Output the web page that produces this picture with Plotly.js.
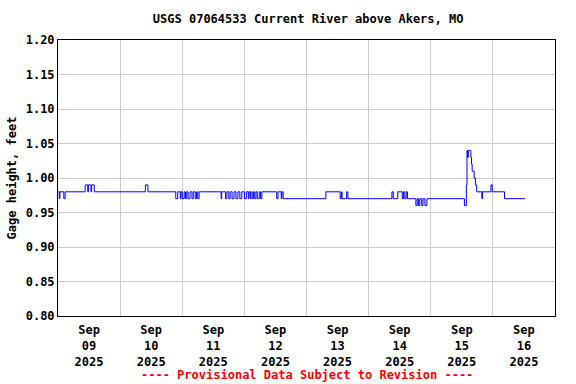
<!DOCTYPE html>
<html>
<head>
<meta charset="utf-8">
<script src="https://cdn.plot.ly/plotly-3.0.1.min.js"></script>
<style>html,body{margin:0;padding:0;background:#fff;}#chart{width:576px;height:384px;}</style>
</head>
<body>
<div id="chart"></div>
<script>
// Gage height change points (15-minute data, value holds until next point)
const times = [
"2025-09-09 00:00","2025-09-09 00:30","2025-09-09 00:45","2025-09-09 02:15","2025-09-09 02:45",
"2025-09-09 10:30","2025-09-09 11:30","2025-09-09 11:45","2025-09-09 12:45","2025-09-09 13:00",
"2025-09-09 14:00","2025-09-10 09:45","2025-09-10 10:45","2025-09-10 21:30","2025-09-10 22:15",
"2025-09-10 23:15","2025-09-10 23:30","2025-09-11 00:00","2025-09-11 00:45","2025-09-11 01:15",
"2025-09-11 01:45","2025-09-11 02:15","2025-09-11 03:00","2025-09-11 03:45","2025-09-11 04:15",
"2025-09-11 05:00","2025-09-11 05:30","2025-09-11 06:00","2025-09-11 06:30","2025-09-11 15:00",
"2025-09-11 15:15","2025-09-11 16:45","2025-09-11 17:15","2025-09-11 18:00","2025-09-11 18:30",
"2025-09-11 19:15","2025-09-11 20:00","2025-09-11 20:45","2025-09-11 21:30","2025-09-11 22:15",
"2025-09-11 23:00","2025-09-12 00:00","2025-09-12 00:45","2025-09-12 01:30","2025-09-12 01:45",
"2025-09-12 02:15","2025-09-12 02:30","2025-09-12 03:00","2025-09-12 03:30","2025-09-12 04:00",
"2025-09-12 04:30","2025-09-12 05:00","2025-09-12 05:45","2025-09-12 06:15","2025-09-12 06:45",
"2025-09-12 12:30","2025-09-12 13:00","2025-09-12 14:15","2025-09-12 14:30","2025-09-12 15:00",
"2025-09-13 07:30","2025-09-13 13:00","2025-09-13 13:30","2025-09-13 13:45","2025-09-13 15:30",
"2025-09-13 16:00","2025-09-14 09:00","2025-09-14 09:30","2025-09-14 11:15","2025-09-14 13:00",
"2025-09-14 13:30","2025-09-14 14:00","2025-09-14 14:30","2025-09-14 15:00","2025-09-14 18:15",
"2025-09-14 18:45","2025-09-14 19:15","2025-09-14 19:45","2025-09-14 20:30","2025-09-14 21:00",
"2025-09-14 21:45","2025-09-14 22:30","2025-09-15 13:00","2025-09-15 13:45","2025-09-15 14:00",
"2025-09-15 14:15","2025-09-15 14:30","2025-09-15 15:30","2025-09-15 15:45","2025-09-15 16:00",
"2025-09-15 16:45","2025-09-15 17:15","2025-09-15 17:45","2025-09-15 19:45","2025-09-15 20:00",
"2025-09-15 23:15","2025-09-15 23:45","2025-09-16 04:30","2025-09-16 12:30"
];
const gageHeight = [
0.98,0.97,0.98,0.97,0.98,
0.99,0.98,0.99,0.98,0.99,
0.98,0.99,0.98,0.97,0.98,
0.97,0.98,0.97,0.98,0.97,
0.98,0.97,0.98,0.97,0.98,
0.97,0.98,0.97,0.98,0.97,
0.98,0.97,0.98,0.97,0.98,
0.97,0.98,0.97,0.98,0.97,
0.98,0.97,0.98,0.97,0.98,
0.97,0.98,0.97,0.98,0.97,
0.98,0.97,0.98,0.97,0.98,
0.97,0.98,0.97,0.98,0.97,
0.98,0.97,0.98,0.97,0.98,
0.97,0.98,0.97,0.98,0.97,
0.98,0.97,0.98,0.97,0.96,
0.97,0.96,0.97,0.96,0.97,
0.96,0.97,0.96,0.99,1.04,
1.03,1.04,1.03,1.02,1.01,
1.00,0.99,0.98,0.97,0.98,
0.99,0.98,0.97,0.97
];
const tickPositions = ["2025-09-09 12:00","2025-09-10 12:00","2025-09-11 12:00","2025-09-12 12:00",
                       "2025-09-13 12:00","2025-09-14 12:00","2025-09-15 12:00","2025-09-16 12:00"];
const tickLabels = ["Sep<br>09<br>2025","Sep<br>10<br>2025","Sep<br>11<br>2025","Sep<br>12<br>2025",
                    "Sep<br>13<br>2025","Sep<br>14<br>2025","Sep<br>15<br>2025","Sep<br>16<br>2025"];
const yTicks = [0.80,0.85,0.90,0.95,1.00,1.05,1.10,1.15,1.20];
const yTickLabels = ["0.80","0.85","0.90","0.95","1.00","1.05","1.10","1.15","1.20"];

const mono = {family: "DejaVu Sans Mono", size: 12, color: "#000", weight: "bold"};

Plotly.newPlot("chart", [{
  x: times, y: gageHeight, type: "scatter", mode: "lines",
  line: {color: "#0000ff", width: 1, shape: "hv"}, hoverinfo: "skip"
}], {
  width: 576, height: 384,
  margin: {l: 58, r: 21, t: 40, b: 68, pad: 0},
  paper_bgcolor: "#fff", plot_bgcolor: "#fff",
  showlegend: false,
  title: {text: "USGS 07064533 Current River above Akers, MO", font: mono,
          x: 0.535, xref: "container", xanchor: "center", y: 1 - 19/384, yref: "container", yanchor: "middle"},
  xaxis: {
    type: "date", range: ["2025-09-09 00:00", "2025-09-17 00:00"],
    tickmode: "array", tickvals: tickPositions, ticktext: tickLabels,
    showgrid: false, ticks: "", tickfont: mono, ticklabelstandoff: 3,
    minor: {tickmode: "linear", tick0: "2025-09-09", dtick: 86400000, showgrid: true, gridcolor: "#cccccc", gridwidth: 1, ticks: ""},
    showline: true, linecolor: "#000", linewidth: 1, mirror: true, zeroline: false
  },
  yaxis: {
    range: [0.80, 1.20], tickmode: "array", tickvals: yTicks, ticktext: yTickLabels,
    showgrid: true, gridcolor: "#cccccc", gridwidth: 1, ticks: "", ticklen: 0, tickfont: mono,
    title: {text: "Gage height, feet", font: mono, standoff: 6},
    showline: true, linecolor: "#000", linewidth: 1, mirror: true, zeroline: false
  },
  annotations: [{
    text: "---- Provisional Data Subject to Revision ----", xref: "paper", yref: "paper",
    x: 0.5, y: -(375 - 316) / 276, xanchor: "center", yanchor: "middle", showarrow: false,
    font: {family: "DejaVu Sans Mono", size: 12, color: "#ff0000", weight: "bold"}
  }]
}, {staticPlot: true, displayModeBar: false});
</script>
</body>
</html>
